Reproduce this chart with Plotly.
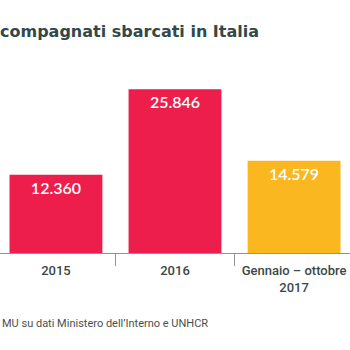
import plotly.graph_objects as go

categories = ["2015", "2016", "Gennaio – ottobre<br>2017"]
values = [12360, 25846, 14579]
labels = ["12.360", "25.846", "14.579"]
colors = ["#ED1E4C", "#ED1E4C", "#FBB71F"]
title_text = "compagnati sbarcati in Italia"
source_text = "MU su dati Ministero dell’Interno e UNHCR"

fig = go.Figure(go.Bar(
    x=categories, y=values, text=labels,
    marker=dict(color=colors, line=dict(width=0)),
    width=0.78,
    textposition="inside", insidetextanchor="end", textangle=0,
    constraintext="none",
    textfont=dict(family="Lato", size=16, color="white", weight=600),
    hoverinfo="skip",
))

fig.update_layout(
    width=350, height=350,
    margin=dict(l=0, r=0, t=63, b=97),
    paper_bgcolor="white", plot_bgcolor="white",
    showlegend=False,
    xaxis=dict(
        range=[-0.47, 2.47], showline=True, linecolor="#8f9494", linewidth=1,
        ticks="outside", tickson="boundaries", ticklen=12, tickcolor="#8f9494",
        ticklabelstandoff=5,
        tickfont=dict(family="Roboto", size=13, color="#3b4848", weight=500),
        showgrid=False, zeroline=False, fixedrange=True,
    ),
    yaxis=dict(range=[0, 30000], visible=False, showgrid=False, zeroline=False),
)

fig.add_annotation(text=title_text, xref="paper", yref="paper",
                   x=-0.005, y=1, yshift=32, xanchor="left", yanchor="middle",
                   showarrow=False,
                   font=dict(family="DejaVu Sans", size=16, color="#33484a", weight="bold"))
fig.add_annotation(text=source_text, xref="paper", yref="paper",
                   x=0, y=0, yshift=-70, xanchor="left", yanchor="middle",
                   showarrow=False,
                   font=dict(family="Roboto", size=11, color="#4a4f4f"))

fig.write_html("out.html")
